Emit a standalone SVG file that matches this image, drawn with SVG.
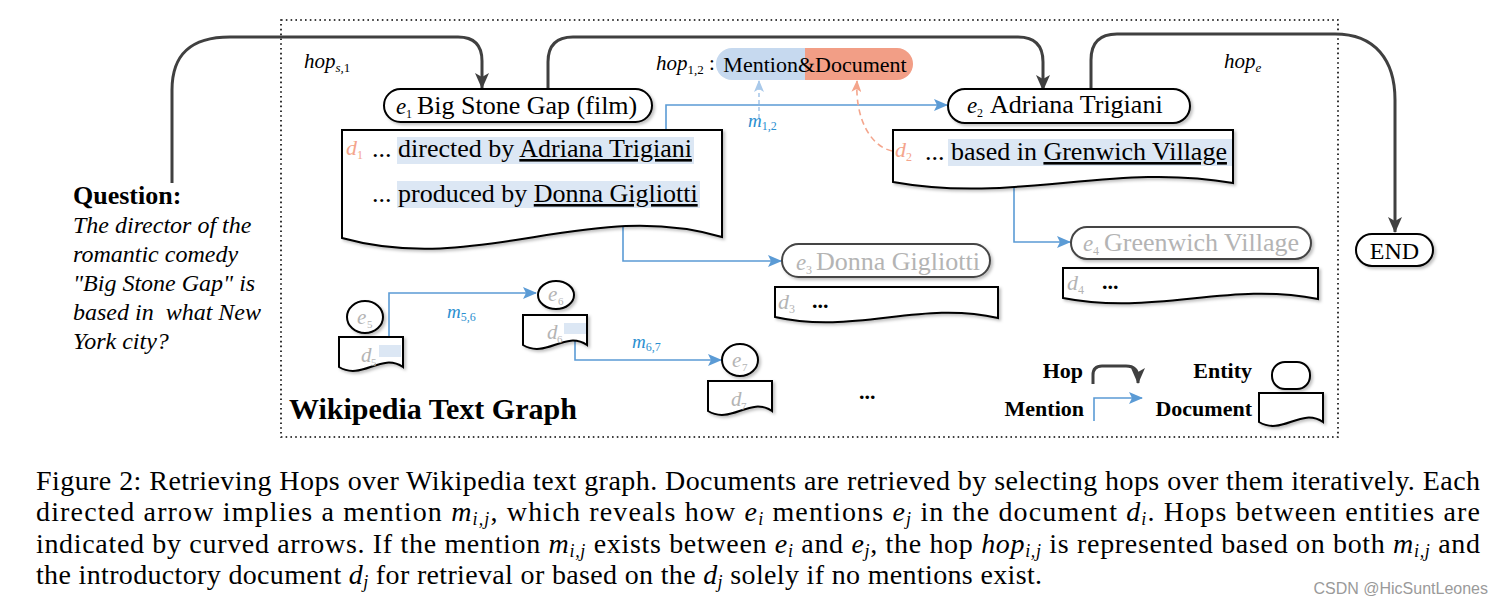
<svg xmlns="http://www.w3.org/2000/svg" width="1504" height="607" viewBox="0 0 1504 607">
<style>
.serif{font-family:"Liberation Serif","Times New Roman",serif;}
.it{font-style:italic;}
.b{font-weight:bold;}
.node{fill:#fff;stroke:#000;stroke-width:2;filter:url(#sh);}
.hop{fill:none;stroke:#404040;stroke-width:3;}
.men{fill:none;stroke:#5b9bd5;stroke-width:1.6;}
.hl{fill:#dce7f4;}
.gray{fill:#b4b4b4;}
.sal{fill:#f4a58c;}
.mlab{fill:#2b8fd0;}
</style>
<defs>
<filter id="sh" x="-10%" y="-10%" width="130%" height="140%">
<feDropShadow dx="2" dy="2" stdDeviation="1.5" flood-color="#000" flood-opacity="0.25"/>
</filter>
<marker id="ah" viewBox="0 0 16 14" refX="15" refY="7" markerWidth="16" markerHeight="14" orient="auto" markerUnits="userSpaceOnUse">
<path d="M0,0 L16,7 L0,14 L4,7z" fill="#404040"/>
</marker>
<marker id="am" viewBox="0 0 14 12" refX="13" refY="6" markerWidth="14" markerHeight="12" orient="auto" markerUnits="userSpaceOnUse">
<path d="M0,0 L14,6 L0,12 L3,6z" fill="#5b9bd5"/>
</marker>
<marker id="aml" viewBox="0 0 12 10" refX="11" refY="5" markerWidth="12" markerHeight="10" orient="auto" markerUnits="userSpaceOnUse">
<path d="M0,0 L12,5 L0,10 L3,5z" fill="#a9c9ea"/>
</marker>
<marker id="asal" viewBox="0 0 12 10" refX="11" refY="5" markerWidth="12" markerHeight="10" orient="auto" markerUnits="userSpaceOnUse">
<path d="M0,0 L12,5 L0,10 L3,5z" fill="#f4a58c"/>
</marker>
<clipPath id="pill"><rect x="716" y="48" width="197" height="32" rx="16"/></clipPath>
</defs>
<rect width="1504" height="607" fill="#fff"/>

<!-- frame -->
<rect x="281" y="20" width="1057" height="417" fill="none" stroke="#000" stroke-width="1.6" stroke-dasharray="1.6 3.2"/>

<!-- connectors -->
<g id="connectors">
<path class="hop" d="M172,183 L172,90 C172,55 190,37 230,37 L458,37 Q482,37 482,61 L482,88" marker-end="url(#ah)"/>
<path class="hop" d="M548,89 L548,62 Q548,37 573,37 L1018,37 Q1043,37 1043,62 L1043,90" marker-end="url(#ah)"/>
<path class="hop" d="M1091,90 L1091,60 Q1091,34 1117,34 L1335,34 C1375,34 1395,60 1395,100 L1395,232" marker-end="url(#ah)"/>
<path class="men" d="M666,139 L666,105 L947,105" marker-end="url(#am)"/>
<path class="men" d="M623,207 L623,261 L781,261" marker-end="url(#am)"/>
<path class="men" d="M1014,166 L1014,242 L1070,242" marker-end="url(#am)"/>
<path class="men" d="M389,346 L389,293 L536,293" marker-end="url(#am)"/>
<path class="men" d="M575,333 L575,360 L721,360" marker-end="url(#am)"/>
<path d="M759,118 L759,81" fill="none" stroke="#a9c9ea" stroke-width="1.6" stroke-dasharray="4 3" marker-end="url(#aml)"/>
<path d="M892,151 C870,146 855,118 857,81" fill="none" stroke="#f4a58c" stroke-width="1.6" stroke-dasharray="6 4" marker-end="url(#asal)"/>
</g>

<!-- hop labels -->
<g class="serif it" font-size="21">
<text x="304" y="68">hop<tspan font-size="13" dy="4">s,</tspan><tspan font-size="13" font-style="normal">1</tspan></text>
<text x="656" y="70">hop<tspan font-size="13" dy="4" font-style="normal">1,2</tspan><tspan dy="-4" font-style="normal"> :</tspan></text>
<text x="1224" y="68">hop<tspan font-size="13" dy="4">e</tspan></text>
</g>

<!-- hop 1,2 pill -->
<g id="hop12">
<g clip-path="url(#pill)">
<rect x="716" y="48" width="89" height="32" fill="#c6d9ef"/>
<rect x="805" y="48" width="108" height="32" fill="#f29e86"/>
</g>
<text class="serif" x="815" y="72" font-size="22" text-anchor="middle">Mention&amp;Document</text>
</g>
<text class="serif it mlab" x="748" y="127" font-size="19">m<tspan font-size="12" dy="3" font-style="normal">1,2</tspan></text>
<text class="serif it mlab" x="447" y="318" font-size="19">m<tspan font-size="12" dy="3" font-style="normal">5,6</tspan></text>
<text class="serif it mlab" x="632" y="348" font-size="19">m<tspan font-size="12" dy="3" font-style="normal">6,7</tspan></text>

<!-- e1 -->
<g id="e1">
<rect class="node" x="384" y="89" width="268" height="33" rx="16.5"/>
<text class="serif it" x="396" y="114" font-size="23">e</text>
<text class="serif" x="406" y="118" font-size="12">1</text>
<text class="serif" x="417" y="114" font-size="26">Big Stone Gap (film)</text>
</g>
<!-- d1 -->
<g id="d1">
<path class="node" d="M342,130 H722 V237 C589,198 479,276 342,238 Z"/>
<rect class="hl" x="397" y="137" width="297" height="27"/>
<rect class="hl" x="397" y="181" width="303" height="27"/>
<text class="serif it sal" x="346" y="155" font-size="22">d</text>
<text class="serif sal" x="357" y="159" font-size="12">1</text>
<text class="serif" x="372" y="157" font-size="26">... directed by <tspan text-decoration="underline">Adriana Trigiani</tspan></text>
<text class="serif" x="372" y="202" font-size="26">... produced by <tspan text-decoration="underline">Donna Gigliotti</tspan></text>
</g>

<!-- e2 -->
<g id="e2">
<rect class="node" x="948" y="89" width="242" height="34" rx="17"/>
<text class="serif it" x="967" y="113" font-size="23">e</text>
<text class="serif" x="977" y="117" font-size="12">2</text>
<text class="serif" x="990" y="113" font-size="26">Adriana Trigiani</text>
</g>
<!-- d2 -->
<g id="d2">
<path class="node" d="M893,130 H1233 V183 C1114,162 1015,204 893,182 Z"/>
<rect class="hl" x="948" y="139" width="284" height="27"/>
<text class="serif it sal" x="895" y="157" font-size="22">d</text>
<text class="serif sal" x="906" y="161" font-size="12">2</text>
<text class="serif" x="925" y="160" font-size="26">... based in <tspan text-decoration="underline">Grenwich Village</tspan></text>
</g>

<!-- e3 / d3 -->
<g id="e3">
<rect class="node" x="782" y="244" width="208" height="33" rx="16.5" style="stroke:#444"/>
<text class="serif it gray" x="796" y="270" font-size="23">e</text>
<text class="serif gray" x="806" y="274" font-size="12">3</text>
<text class="serif gray" x="816" y="270" font-size="26">Donna Gigliotti</text>
</g>
<g id="d3">
<path class="node" d="M775,287 H998 V318 C920,300 855,335 775,317 Z"/>
<text class="serif it gray" x="778" y="309" font-size="22">d</text>
<text class="serif gray" x="789" y="313" font-size="12">3</text>
<text class="serif b" x="812" y="308" font-size="22">...</text>
</g>

<!-- e4 / d4 -->
<g id="e4">
<rect class="node" x="1071" y="227" width="240" height="32" rx="16" style="stroke:#444"/>
<text class="serif it gray" x="1083" y="251" font-size="23">e</text>
<text class="serif gray" x="1093" y="255" font-size="12">4</text>
<text class="serif gray" x="1104" y="251" font-size="26">Greenwich Village</text>
</g>
<g id="d4">
<path class="node" d="M1063,268 H1318 V299 C1229,281 1155,316 1063,298 Z"/>
<text class="serif it gray" x="1067" y="290" font-size="22">d</text>
<text class="serif gray" x="1078" y="294" font-size="12">4</text>
<text class="serif b" x="1102" y="289" font-size="22">...</text>
</g>

<!-- END -->
<g id="end">
<rect class="node" x="1356" y="234" width="77" height="32" rx="16"/>
<text class="serif" x="1394.5" y="259" font-size="24" text-anchor="middle">END</text>
</g>

<!-- small nodes -->
<g id="e5">
<ellipse class="node" cx="365" cy="317" rx="18" ry="16"/>
<text class="serif it gray" x="357" y="324" font-size="21">e</text>
<text class="serif gray" x="367" y="328" font-size="11">5</text>
</g>
<g id="d5">
<path class="node" d="M339,337 H403 V367 C381,352 362,381 339,367 Z"/>
<rect class="hl" x="379" y="345" width="22" height="12"/>
<text class="serif it gray" x="361" y="362" font-size="21">d</text>
<text class="serif gray" x="371" y="366" font-size="11">5</text>
</g>
<g id="e6">
<ellipse class="node" cx="556" cy="295" rx="18" ry="14"/>
<text class="serif it gray" x="548" y="301" font-size="21">e</text>
<text class="serif gray" x="558" y="305" font-size="11">6</text>
</g>
<g id="d6">
<path class="node" d="M523,315 H587 V345 C565,330 546,359 523,345 Z"/>
<rect class="hl" x="564" y="323" width="22" height="11"/>
<text class="serif it gray" x="547" y="339" font-size="21">d</text>
<text class="serif gray" x="557" y="343" font-size="11">6</text>
</g>
<g id="e7">
<ellipse class="node" cx="740" cy="360" rx="18" ry="16"/>
<text class="serif it gray" x="732" y="367" font-size="21">e</text>
<text class="serif gray" x="742" y="371" font-size="11">7</text>
</g>
<g id="d7">
<path class="node" d="M708,381 H772 V411 C750,396 731,425 708,411 Z"/>
<text class="serif it gray" x="731" y="406" font-size="21">d</text>
<text class="serif gray" x="741" y="410" font-size="11">7</text>
</g>
<text class="serif b" x="859" y="399" font-size="22">...</text>

<!-- title -->
<text class="serif b" x="289" y="419" font-size="30">Wikipedia Text Graph</text>

<!-- legend -->
<g id="legend">
<text class="serif b" x="1083" y="378" font-size="22" text-anchor="end">Hop</text>
<path class="hop" d="M1093,384 L1093,375 Q1093,366 1102,366 L1126,366 Q1138,366 1138,378 L1138,383" marker-end="url(#ah)"/>
<text class="serif b" x="1252" y="378" font-size="22" text-anchor="end">Entity</text>
<rect class="node" x="1272" y="362" width="38" height="27" rx="13"/>
<text class="serif b" x="1084" y="416" font-size="22" text-anchor="end">Mention</text>
<path class="men" d="M1094,421 L1094,398 L1142,398" marker-end="url(#am)"/>
<text class="serif b" x="1252" y="416" font-size="22" text-anchor="end">Document</text>
<path class="node" d="M1259,393 H1323 V422 C1301,407 1282,436 1259,422 Z"/>
</g>

<!-- question -->
<g id="question" class="serif">
<text class="b" x="73" y="204" font-size="26">Question:</text>
<g class="it" font-size="24">
<text x="73" y="233">The director of the</text>
<text x="73" y="262">romantic comedy</text>
<text x="73" y="291">"Big Stone Gap" is</text>
<text x="73" y="320">based in&#160; what New</text>
<text x="73" y="349">York city?</text>
</g>
</g>

<!-- caption -->
<g id="caption" class="serif" font-size="28">
<text x="36" y="490" textLength="1444" lengthAdjust="spacing">Figure 2: Retrieving Hops over Wikipedia text graph. Documents are retrieved by selecting hops over them iteratively. Each</text>
<text x="36" y="521" textLength="1444" lengthAdjust="spacing">directed arrow implies a mention <tspan class="it">m</tspan><tspan class="it" font-size="18" dy="4">i,j</tspan><tspan dy="-4">, which reveals how </tspan><tspan class="it">e</tspan><tspan class="it" font-size="18" dy="4">i</tspan><tspan dy="-4"> mentions </tspan><tspan class="it">e</tspan><tspan class="it" font-size="18" dy="4">j</tspan><tspan dy="-4"> in the document </tspan><tspan class="it">d</tspan><tspan class="it" font-size="18" dy="4">i</tspan><tspan dy="-4">. Hops between entities are</tspan></text>
<text x="36" y="553" textLength="1444" lengthAdjust="spacing">indicated by curved arrows. If the mention <tspan class="it">m</tspan><tspan class="it" font-size="18" dy="4">i,j</tspan><tspan dy="-4"> exists between </tspan><tspan class="it">e</tspan><tspan class="it" font-size="18" dy="4">i</tspan><tspan dy="-4"> and </tspan><tspan class="it">e</tspan><tspan class="it" font-size="18" dy="4">j</tspan><tspan dy="-4">, the hop </tspan><tspan class="it">hop</tspan><tspan class="it" font-size="18" dy="4">i,j</tspan><tspan dy="-4"> is represented based on both </tspan><tspan class="it">m</tspan><tspan class="it" font-size="18" dy="4">i,j</tspan><tspan dy="-4"> and</tspan></text>
<text x="36" y="584" textLength="1006" lengthAdjust="spacing">the introductory document <tspan class="it">d</tspan><tspan class="it" font-size="18" dy="4">j</tspan><tspan dy="-4"> for retrieval or based on the </tspan><tspan class="it">d</tspan><tspan class="it" font-size="18" dy="4">j</tspan><tspan dy="-4"> solely if no mentions exist.</tspan></text>
</g>
<text x="1488" y="594" font-family="'Liberation Sans',Arial,sans-serif" font-size="16" fill="#9a9a9a" text-anchor="end">CSDN @HicSuntLeones</text>
</svg>
